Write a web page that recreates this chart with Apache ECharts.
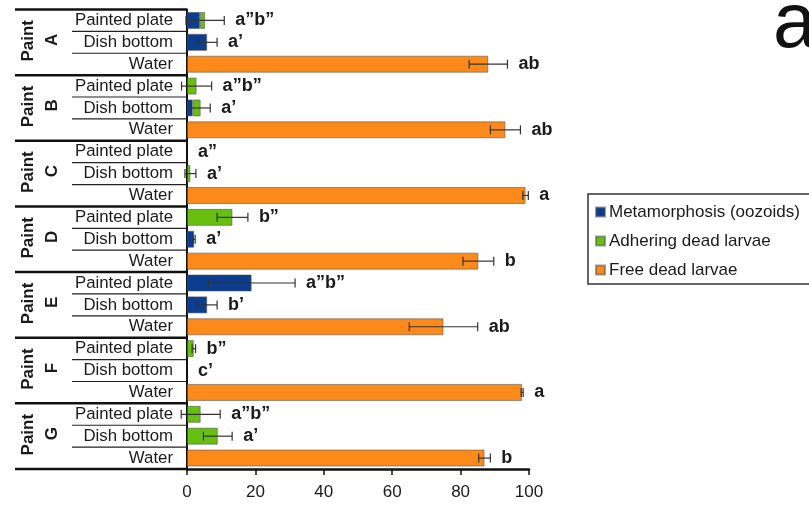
<!DOCTYPE html>
<html>
<head>
<meta charset="utf-8">
<script src="https://cdn.jsdelivr.net/npm/echarts@6/dist/echarts.min.js"></script>
<style>
  html, body { margin: 0; padding: 0; background: #fff; }
  #chart { width: 809px; height: 506px; }
</style>
</head>
<body>
<div id="chart"></div>
<script>
// Paint treatments and the three exposure rows inside each one
const paints = ['A', 'B', 'C', 'D', 'E', 'F', 'G'];
const rowNames = ['Painted plate', 'Dish bottom', 'Water'];

// Percentages per row (top to bottom: A painted plate, A dish bottom, A water, B ...)
const metamorphosis = [3.8, 5.9, 0,   0, 1.7, 0,   0, 0, 0,   0, 2.1, 0,   18.9, 5.9, 0,   0, 0, 0,   0, 0, 0];
const adhering      = [1.5, 0, 0,   2.8, 2.3, 0,   0, 1.0, 0,   13.3, 0, 0,   0, 0, 0,   2.0, 0, 0,   4.0, 9.0, 0];
const freeDead      = [0, 0, 88.1,   0, 0, 93.1,   0, 0, 99.0,   0, 0, 85.2,   0, 0, 75.0,   0, 0, 98.0,   0, 0, 87.0];
// Standard error of the row total
const errors        = [5.6, 2.9, 5.6,   4.4, 2.8, 4.4,   0, 1.6, 0.8,   4.5, 0.3, 4.5,   12.7, 2.9, 10.0,   0.5, 0, 0.3,   5.7, 4.2, 1.7];
// Significance letters
const letters = ['a\u201Db\u201D', 'a\u2019', 'ab',
                 'a\u201Db\u201D', 'a\u2019', 'ab',
                 'a\u201D', 'a\u2019', 'a',
                 'b\u201D', 'a\u2019', 'b',
                 'a\u201Db\u201D', 'b\u2019', 'ab',
                 'b\u201D', 'c\u2019', 'a',
                 'a\u201Db\u201D', 'a\u2019', 'b'];
const xTicks = [0, 20, 40, 60, 80, 100];

const categories = [];
paints.forEach(p => rowNames.forEach(r => categories.push(p + ' ' + r)));

const FONT = "Arial, 'Liberation Sans', sans-serif";
const COLORS = { meta: '#0b3d91', adh: '#67c010', free: '#fb8a1b' };

const totals = categories.map((_, i) => metamorphosis[i] + adhering[i] + freeDead[i]);
const nz = arr => arr.map(v => (v === 0 ? null : v));

function barSeries(name, data, color) {
  return {
    name, type: 'bar', stack: 'total', barWidth: 17,
    data: nz(data),
    itemStyle: { color, borderColor: 'rgba(80,80,80,0.55)', borderWidth: 1 },
    emphasis: { disabled: true }
  };
}

const chart = echarts.init(document.getElementById('chart'), null, { renderer: 'canvas' });

chart.setOption({
  animation: false,
  backgroundColor: '#fff',
  grid: { left: 187, right: 280, top: 9.5, bottom: 37, containLabel: false },
  legend: {
    orient: 'vertical', left: 588, top: 194,
    padding: [8, 10, 4, 7],
    itemWidth: 9, itemHeight: 9, itemGap: 9, icon: 'rect',
    borderColor: '#333', borderWidth: 1.5,
    textStyle: { fontFamily: FONT, fontSize: 17, color: '#1a1a1a', lineHeight: 20, padding: [0, 0, 0, -1] },
    data: ['Metamorphosis (oozoids)', 'Adhering dead larvae', 'Free dead larvae']
  },
  xAxis: {
    type: 'value', min: 0, max: 100, interval: 20,
    axisLine: { show: true, lineStyle: { color: '#111', width: 2.5 } },
    axisTick: { show: true, length: 6, lineStyle: { color: '#111', width: 1.5 } },
    splitLine: { show: false },
    axisLabel: {
      fontFamily: FONT, fontSize: 17, color: '#1a1a1a', margin: 15,
      formatter: v => (xTicks.indexOf(v) >= 0 ? String(v) : '')
    }
  },
  yAxis: {
    type: 'category', inverse: true, data: categories,
    axisLine: { show: true, lineStyle: { color: '#111', width: 2 } },
    axisTick: { show: false },
    axisLabel: {
      interval: 0, hideOverlap: false,
      fontFamily: FONT, fontSize: 16.8, color: '#1a1a1a', margin: 14,
      padding: [3, 0, 0, 0],
      formatter: (v, i) => rowNames[i % 3]
    }
  },
  graphic: [{
    type: 'text', left: 773, top: -14,
    style: { text: 'a', fontFamily: FONT, fontSize: 78, fill: '#111' }
  }],
  series: [
    barSeries('Metamorphosis (oozoids)', metamorphosis, COLORS.meta),
    barSeries('Adhering dead larvae', adhering, COLORS.adh),
    barSeries('Free dead larvae', freeDead, COLORS.free),
    {
      // error bars and significance letters at the end of each stacked bar
      type: 'custom', name: 'errors', silent: true, clip: false, z: 5,
      encode: { x: 0, y: 1 },
      data: categories.map((_, i) => [totals[i], i, errors[i]]),
      renderItem: (params, api) => {
        const t = api.value(0), idx = api.value(1), e = api.value(2);
        const lo = api.coord([t - e, idx]);
        const hi = api.coord([t + e, idx]);
        const y = lo[1];
        const children = [];
        const ls = { stroke: '#333', lineWidth: 1.2 };
        if (e > 0) {
          children.push({ type: 'line', shape: { x1: lo[0], y1: y, x2: hi[0], y2: y }, style: ls });
          children.push({ type: 'line', shape: { x1: lo[0], y1: y - 4.5, x2: lo[0], y2: y + 4.5 }, style: ls });
          children.push({ type: 'line', shape: { x1: hi[0], y1: y - 4.5, x2: hi[0], y2: y + 4.5 }, style: ls });
        }
        children.push({
          type: 'text', x: hi[0] + 11, y: y,
          style: { text: letters[idx], fontFamily: FONT, fontWeight: 'bold', fontSize: 18,
                   fill: '#1a1a1a', align: 'left', verticalAlign: 'middle' }
        });
        return { type: 'group', children };
      }
    },
    {
      // left-hand table rules and rotated paint names
      type: 'custom', name: 'table', silent: true, clip: false, z: 4,
      encode: { x: 0, y: 1 },
      data: categories.map((_, i) => [0, i]),
      renderItem: (params, api) => {
        const idx = api.value(1);
        const c = api.coord([0, idx]);
        const h = api.size([0, 1])[1];
        const top = c[1] - h / 2;
        const ax = c[0];
        const children = [];
        if (idx % 3 === 0) {
          children.push({ type: 'line', shape: { x1: ax - 172, y1: top, x2: ax, y2: top },
                          style: { stroke: '#111', lineWidth: 2.5 } });
        } else {
          children.push({ type: 'line', shape: { x1: ax - 115, y1: top, x2: ax, y2: top },
                          style: { stroke: '#222', lineWidth: 1.2 } });
        }
        if (idx === categories.length - 1) {
          children.push({ type: 'line', shape: { x1: ax - 172, y1: top + h, x2: ax, y2: top + h },
                          style: { stroke: '#111', lineWidth: 2.5 } });
        }
        if (idx % 3 === 1) {
          const g = paints[(idx - 1) / 3];
          children.push({
            type: 'text', x: ax - 159, y: c[1] - 1.5, rotation: Math.PI / 2,
            style: { text: 'Paint', fontFamily: FONT, fontWeight: 'bold', fontSize: 17,
                     fill: '#1a1a1a', align: 'center', verticalAlign: 'middle' }
          });
          children.push({
            type: 'text', x: ax - 135, y: c[1] - 2.5, rotation: Math.PI / 2,
            style: { text: g, fontFamily: FONT, fontWeight: 'bold', fontSize: 17,
                     fill: '#1a1a1a', align: 'center', verticalAlign: 'middle' }
          });
        }
        return { type: 'group', children };
      }
    }
  ]
});
</script>
</body>
</html>
